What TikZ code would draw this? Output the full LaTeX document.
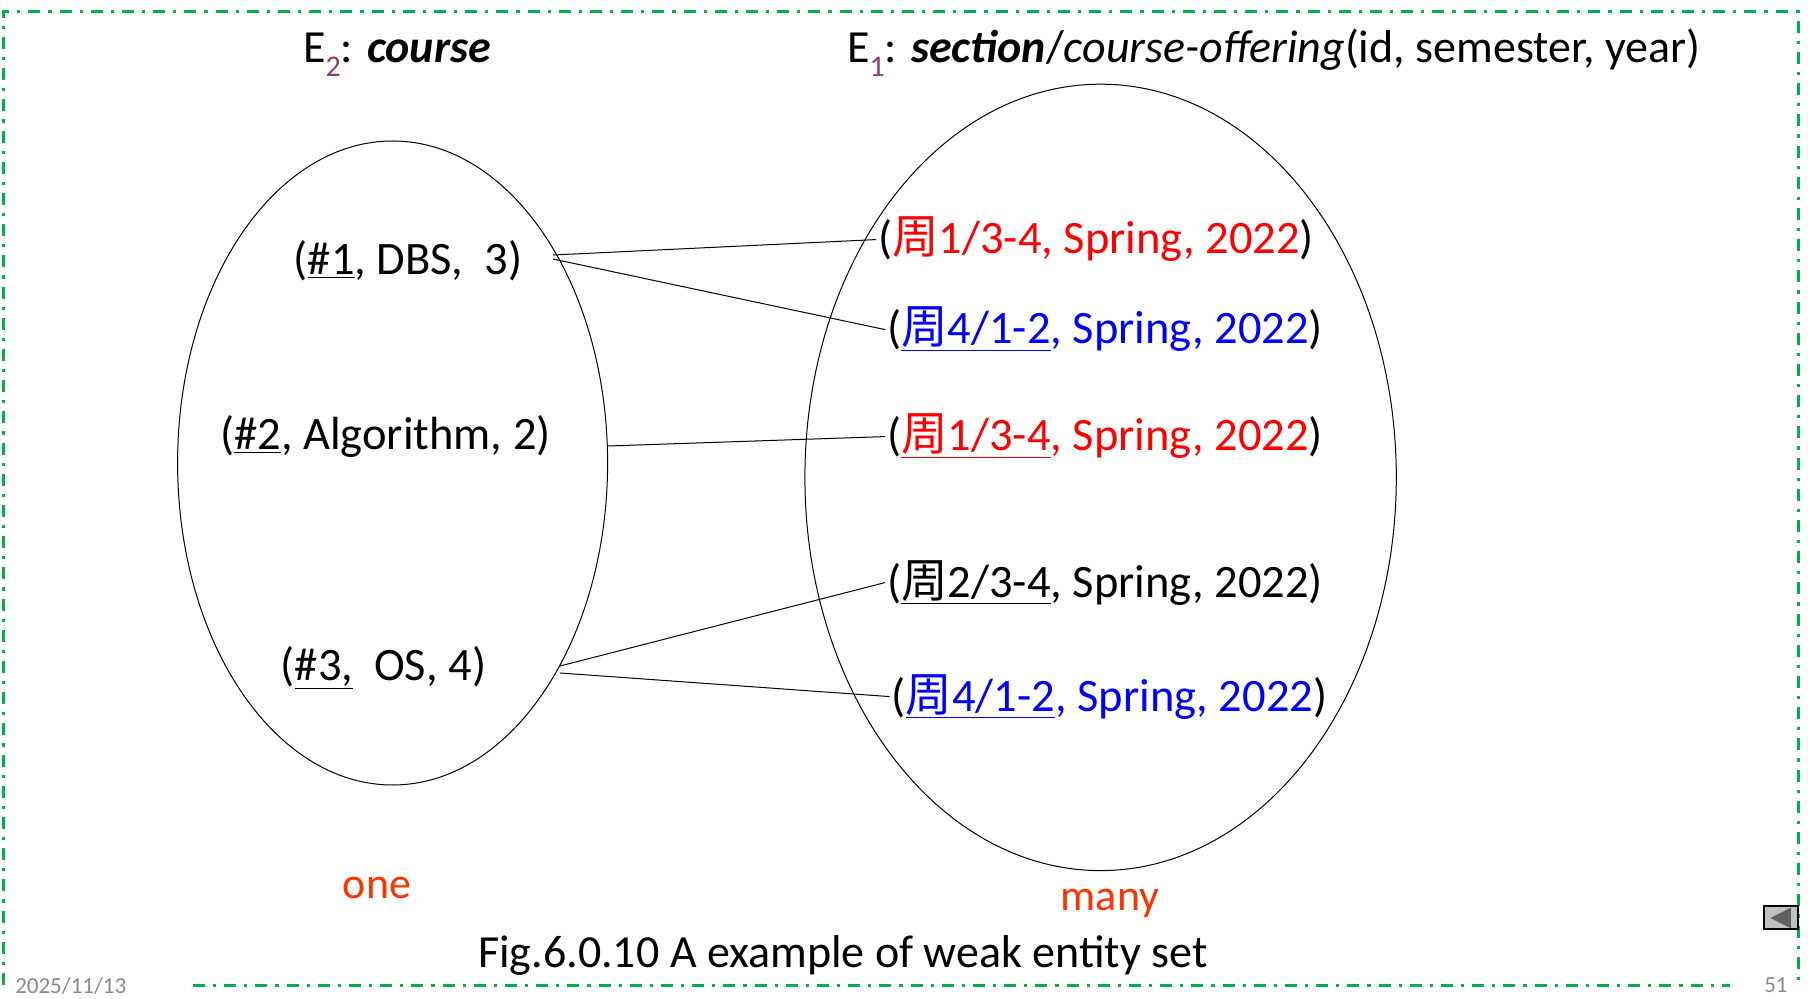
\documentclass[tikz,border=0pt]{standalone}
\usepackage{fontspec}
\setmainfont{Carlito}
\newfontfamily\cjkfont{Noto Sans CJK SC}

\definecolor{framegreen}{RGB}{0,176,80}
\definecolor{secred}{RGB}{255,0,0}
\definecolor{secblue}{RGB}{0,0,255}
\definecolor{subpurple}{RGB}{142,59,110}
\definecolor{cardred}{RGB}{255,51,0}
\definecolor{footgray}{RGB}{137,137,137}
\definecolor{btngray}{RGB}{192,192,192}
\definecolor{btndark}{RGB}{96,96,96}

\newcommand{\zhou}{{\cjkfont 周}}
\newcommand{\esub}[1]{\raisebox{-7pt}{\fontsize{15}{15}\selectfont\color{subpurple}#1}}

\tikzset{every picture/.style={line width=0.75pt}}
\tikzset{
	slideframe/.style={color=framegreen, line width=1.5pt, dash pattern=on 6pt off 4pt on 1.6pt off 4pt},
	entityset/.style={line width=0.5pt},
	pairline/.style={line width=0.5pt},
	tuple/.style={inner sep=0.75pt, font=\fontsize{23.25}{28}\selectfont},
	heading/.style={inner sep=0.75pt, font=\fontsize{23}{28}\selectfont},
	cardinal/.style={inner sep=0.75pt, color=cardred, font=\fontsize{22}{26}\selectfont},
	footer/.style={inner sep=0.75pt, color=footgray, font=\fontsize{11.5}{13}\selectfont},
}

\begin{document}
\begin{tikzpicture}[x=0.5pt,y=0.5pt,yscale=-1,xscale=1]
	\useasboundingbox (0,0) rectangle (1808,999);
	
	%Shape: Frame [id:dp4410] 
	\draw [slideframe] (3,985) -- (3,12) -- (1798,12) -- (1798,985) ;
	\draw [slideframe] (193,985) -- (1730,985) ;
	%Shape: Ellipse [id:dp7702] 
	\draw [entityset] (392.6,463) ellipse [x radius=107.5pt, y radius=161pt] ;
	%Shape: Ellipse [id:dp7703] 
	\draw [entityset] (1100.6,477.4) ellipse [x radius=147.85pt, y radius=196.6pt] ;
	%Shape: Button [id:dp9120] 
	\draw [fill=btngray, line width=0.9pt] (1764,906) rectangle (1798,929) ;
	\draw [fill=btndark, draw=btndark] (1772,918) -- (1790,909) -- (1790,927) -- cycle ;
	
	% Text Node
	\draw (301,63) node [anchor=base west][heading] (hdrcourse) {E\esub{2}: \textbf{\textit{course}}};
	% Text Node
	\draw (845,63) node [anchor=base west][heading] (hdrsection) {E\esub{1}: \textbf{\textit{section}}/\textit{course-offering}(id, semester, year)};
	% Text Node
	\draw (291.5,275) node [anchor=base west][tuple] (c1) {(\underline{\#1}, DBS,\ \ 3)};
	% Text Node
	\draw (218,450) node [anchor=base west][tuple] (c2) {(\underline{\#2}, Algorithm, 2)};
	% Text Node
	\draw (278.5,680) node [anchor=base west][tuple] (c3) {(\underline{\#3,}\ \ OS, 4)};
	% Text Node
	\draw (876,254) node [anchor=base west][tuple] (s1) {({\color{secred}\zhou 1/3-4, Spring, 2022})};
	% Text Node
	\draw (885,344) node [anchor=base west][tuple] (s2) {({\color{secblue}\underline{\zhou 4/1-2}, Spring, 2022})};
	% Text Node
	\draw (885,451) node [anchor=base west][tuple] (s3) {({\color{secred}\underline{\zhou 1/3-4}, Spring, 2022})};
	% Text Node
	\draw (885,597) node [anchor=base west][tuple] (s4) {(\underline{\zhou 2/3-4}, Spring, 2022)};
	% Text Node
	\draw (889.5,711) node [anchor=base west][tuple] (s5) {({\color{secblue}\underline{\zhou 4/1-2}, Spring, 2022})};
	% Text Node
	\draw (377,898) node [anchor=base][cardinal] (one) {one};
	% Text Node
	\draw (1110,910) node [anchor=base][cardinal] (many) {many};
	% Text Node
	\draw (476,967) node [anchor=base west][heading] (caption) {Fig.6.0.10 A example of weak entity set};
	% Text Node
	\draw (13,993) node [anchor=base west][footer] (date) {2025/11/13};
	% Text Node
	\draw (1762,992) node [anchor=base west][footer] (pagenum) {51};
	
	\coordinate (c1a) at (553,255) ;
	\coordinate (c1b) at (553,259) ;
	\coordinate (c2a) at (608,446) ;
	\coordinate (c3a) at (560,666) ;
	\coordinate (c3b) at (560,673) ;
	%Straight Lines [id:da3310] 
	\draw [pairline] (c1a) -- (s1.west) ;
	%Straight Lines [id:da3311] 
	\draw [pairline] (c1b) -- (s2.west) ;
	%Straight Lines [id:da3312] 
	\draw [pairline] (c2a) -- (s3.west) ;
	%Straight Lines [id:da3313] 
	\draw [pairline] (c3a) -- (s4.west) ;
	%Straight Lines [id:da3314] 
	\draw [pairline] (c3b) -- (s5.west) ;
	
\end{tikzpicture}
\end{document}
